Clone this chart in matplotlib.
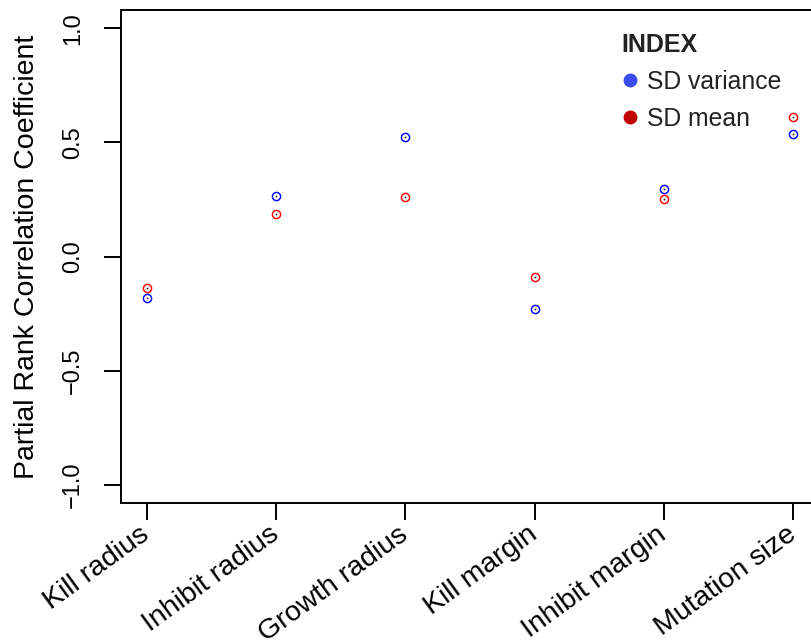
import numpy as np
import matplotlib.pyplot as plt
from matplotlib.lines import Line2D

plt.rcParams['font.family'] = ['Liberation Sans', 'DejaVu Sans']

# parameters on the x axis
params = ["Kill radius", "Inhibit radius", "Growth radius",
          "Kill margin", "Inhibit margin", "Mutation size"]

# partial rank correlation coefficients
sd_variance = [-0.183, 0.265, 0.524, -0.230, 0.295, 0.535]
sd_mean = [-0.138, 0.185, 0.263, -0.088, 0.252, 0.612]

yticks = [-1.0, -0.5, 0.0, 0.5, 1.0]

W, H = 812, 643
fig = plt.figure(figsize=(W / 100, H / 100), dpi=100)
ax = fig.add_axes([120.7 / W, 1 - 503.3 / H, (819.2 - 120.7) / W, (503.3 - 10) / H])

x = np.arange(1, len(params) + 1)

for vals, col in [(sd_mean, "#ff0000"), (sd_variance, "#0000ff")]:
    ax.plot(x, vals, ls="none", marker="o", ms=5.9, mfc="none", mec=col, mew=1.05)
    ax.plot(x, vals, ls="none", marker="o", ms=1.3, mfc="#222222", mec="none")

ax.set_xlim(0.8, 6.2)
ax.set_ylim(-1.08, 1.08)

ax.set_yticks(yticks)
ax.set_yticklabels([f"{v:.1f}".replace("-", "\u2212") for v in yticks])
for lab in ax.get_yticklabels():
    lab.set_rotation(90)
    lab.set_va("center")
ax.tick_params(axis="y", length=12.5, width=1.4, pad=14, labelsize=17)

ax.set_xticks(x)
ax.set_xticklabels(params, rotation=36, ha="right", va="center",
                   rotation_mode="anchor")
ax.tick_params(axis="x", length=12.5, width=1.4, pad=8, labelsize=20.5)

for s in ax.spines.values():
    s.set_linewidth(1.4)

ax.set_ylabel("Partial Rank Correlation Coefficient", fontsize=20.5, labelpad=16)

handles = [
    Line2D([], [], ls="none", marker="o", ms=9, color="#3a4ef0"),
    Line2D([], [], ls="none", marker="o", ms=9, color="#c00000"),
]
leg = ax.legend(handles, ["SD variance", "SD mean"], title="INDEX",
                loc="upper left", bbox_to_anchor=(611 / W, 1 - 23 / H),
                bbox_transform=fig.transFigure, frameon=False,
                fontsize=17.8, title_fontproperties={"weight": "bold", "size": 18},
                alignment="left", handlelength=0.7, handletextpad=0.35,
                labelspacing=0.52, borderaxespad=0)
for t in leg.get_texts():
    t.set_color("#222222")
leg.get_title().set_color("#222222")

fig.savefig("out.png", dpi=100)
